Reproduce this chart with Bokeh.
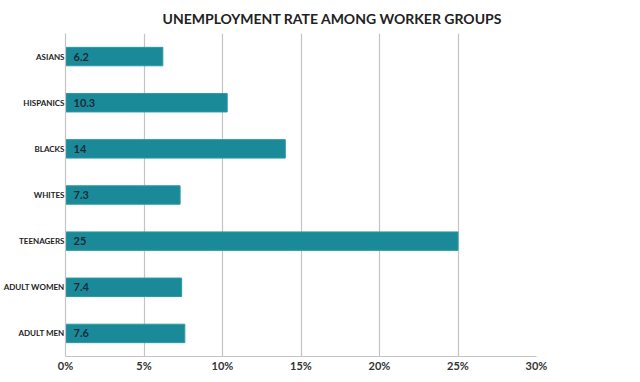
from bokeh.plotting import figure
from bokeh.models import (ColumnDataSource, FactorRange, Range1d, LabelSet,
                          FixedTicker, PrintfTickFormatter)
from bokeh.core.properties import value
from bokeh.embed import file_html
from bokeh.resources import INLINE

# Data (bottom to top)
groups = ["ADULT MEN", "ADULT WOMEN", "TEENAGERS", "WHITES", "BLACKS", "HISPANICS", "ASIANS"]
rates = [7.6, 7.4, 25, 7.3, 14, 10.3, 6.2]
rate_labels = ["7.6", "7.4", "25", "7.3", "14", "10.3", "6.2"]
x_ticks = [0, 5, 10, 15, 20, 25, 30]
title_text = "UNEMPLOYMENT RATE AMONG WORKER GROUPS"

src = ColumnDataSource(dict(group=groups, rate=rates, label=rate_labels,
                            zero=[0] * len(groups)))

p = figure(y_range=FactorRange(*groups, range_padding=0), x_range=Range1d(0, 30),
           frame_width=471, frame_height=323,
           min_border_left=52, min_border_right=86, min_border_top=10, min_border_bottom=10,
           output_backend="svg", toolbar_location=None, title=title_text)
p.title.align = "left"
p.title.offset = 97
p.title.text_font = "Lato"
p.title.text_font_style = "bold"
p.title.text_font_size = "14px"
p.title.text_color = "#222222"
p.title.standoff = 14
p.outline_line_color = None
p.background_fill_color = "white"
p.border_fill_color = "white"

p.hbar(y="group", right="rate", left=0, height=0.4, source=src,
       fill_color="#1a8a98", line_color="#2c9aa7", line_width=1)

# grids
p.ygrid.grid_line_color = None
p.xgrid.grid_line_color = "#c4c4c4"
p.xgrid.grid_line_width = 1.2

# x axis
xa = p.xaxis[0]
xa.ticker = FixedTicker(ticks=x_ticks)
xa.formatter = PrintfTickFormatter(format="%d%%")
xa.axis_line_color = "#c4c4c4"
xa.axis_line_width = 1.2
xa.major_tick_line_color = None
xa.minor_tick_line_color = None
xa.major_tick_out = 0
xa.major_tick_in = 0
xa.major_label_standoff = 2
xa.major_label_text_font = "Lato"
xa.major_label_text_font_style = "bold"
xa.major_label_text_font_size = "11px"
xa.major_label_text_color = "#333333"

# y axis
ya = p.yaxis[0]
ya.axis_line_color = "#c4c4c4"
ya.axis_line_width = 1.2
ya.major_tick_line_color = None
ya.minor_tick_line_color = None
ya.major_tick_out = 0
ya.major_tick_in = 0
ya.major_label_standoff = 1
ya.major_label_text_font = "Lato"
ya.major_label_text_font_style = "bold"
ya.major_label_text_font_size = "8px"
ya.major_label_text_color = "#222222"

# value labels inside bars
val_labels = LabelSet(x="zero", y="group", text="label", source=src, x_offset=8,
                      text_align="left", text_baseline="middle",
                      text_font=value("Lato"), text_font_style="bold",
                      text_font_size=value("11px"), text_color="#1a2a3a")
p.add_layout(val_labels)

open("out.html", "w").write(file_html(p, INLINE))
